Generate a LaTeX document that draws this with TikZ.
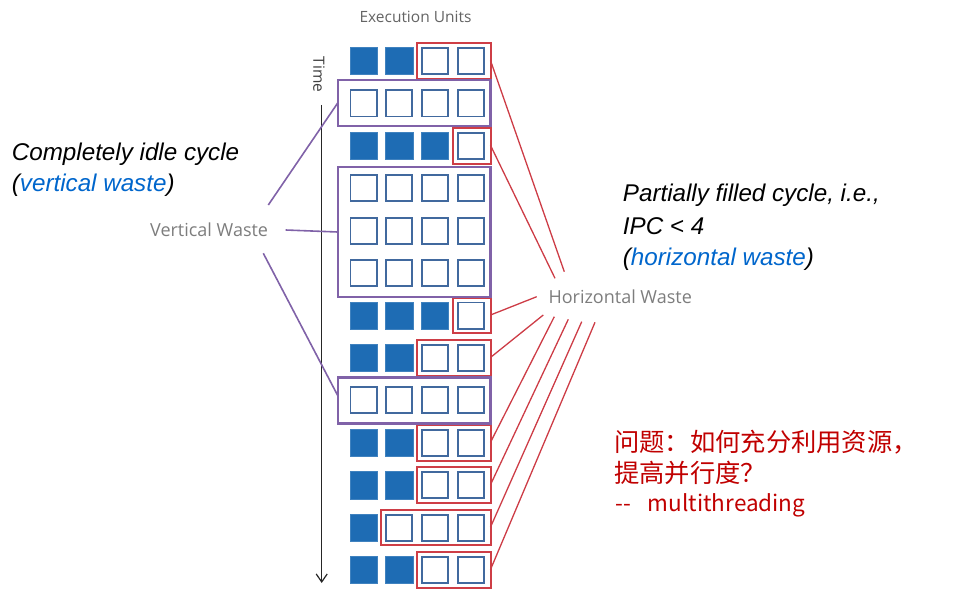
\documentclass[tikz,border=0pt]{standalone}
\usepackage{fontspec}
\setmainfont{Liberation Sans}
\newfontfamily\graysf{Open Sans}
\newfontfamily\cjk{Noto Sans CJK SC}
\usetikzlibrary{arrows.meta}
\definecolor{sqblue}{RGB}{30,108,180}
\definecolor{sqline}{RGB}{65,105,158}
\definecolor{boxred}{RGB}{206,62,70}
\definecolor{linered}{RGB}{205,60,70}
\definecolor{boxpurple}{RGB}{128,98,168}
\definecolor{tblue}{RGB}{0,102,204}
\definecolor{cnred}{RGB}{192,0,0}
\definecolor{labgray}{RGB}{125,125,125}
\tikzset{
  fullsq/.style={fill=sqblue, draw=sqblue!85!white, line width=0.6pt, minimum size=27.4pt, inner sep=0pt, outer sep=0pt},
  emptysq/.style={fill=white, draw=sqline, line width=1.9pt, minimum size=26.1pt, inner sep=0pt, outer sep=0pt},
  redbox/.style={draw=boxred, line width=2pt, inner sep=0pt, outer sep=0pt},
  purpbox/.style={draw=boxpurple, line width=2.1pt, inner sep=0pt, outer sep=0pt, minimum width=152.8pt},
  redline/.style={draw=linered, line width=1.3pt},
  purpline/.style={draw=boxpurple, line width=1.6pt},
  bigit/.style={font=\fontsize{24.2}{28}\selectfont\itshape, inner sep=0pt, anchor=base west},
  graylab/.style={font=\graysf\fontsize{18}{22}\selectfont, text=labgray, inner sep=0pt, anchor=base west},
  smallgray/.style={font=\graysf\fontsize{15.5}{18}\selectfont, text=labgray!80!black, inner sep=0pt},
  cntext/.style={font=\cjk\fontsize{25.3}{30}\selectfont, text=cnred, inner sep=0pt, anchor=base west},
}
\begin{document}
\begin{tikzpicture}[x=1pt, y=-1pt]
\useasboundingbox (0,0) rectangle (961,599);
% titles
\node[smallgray, anchor=base west] (eu) at (359.3,22.7) {Execution Units};
\node[smallgray, rotate=-90, text=black!75] (time) at (319,74.5) {Time};
% time arrow
\coordinate (tTop) at (321.7,105);
\coordinate (tBot) at (321.7,583);
\draw[line width=1.2pt, draw=black!85, -{Straight Barb[length=8pt,width=11pt]}] (tTop) -- (tBot);
% squares
\foreach \r/\f in {1/2,2/0,3/3,4/0,5/0,6/0,7/3,8/2,9/0,10/2,11/2,12/1,13/2}{
  \pgfmathsetmacro\yy{61+42.42*(\r-1)}
  \foreach \c in {1,...,4}{
    \pgfmathsetmacro\xx{363.5+35.75*(\c-1)}
    \ifnum\c>\f
      \node[emptysq] (s\r-\c) at (\xx,\yy) {};
    \else
      \node[fullsq] (s\r-\c) at (\xx,\yy) {};
    \fi
  }
}
% red boxes
\foreach \r/\f in {1/2,3/3,7/3,8/2,10/2,11/2,12/1,13/2}{
  \pgfmathsetmacro\yy{61+42.42*(\r-1)}
  \pgfmathsetmacro\xl{363.5+35.75*\f-18}
  \pgfmathsetmacro\ww{490.5-\xl}
  \pgfmathsetmacro\xc{(490.5+\xl)/2}
  \node[redbox, minimum width=\ww pt, minimum height=35.5pt] (red\r) at (\xc,\yy) {};
}
% purple boxes
\node[purpbox, minimum height=46pt] (p2) at (414.1,103) {};
\node[purpbox, minimum height=129.4pt] (p46) at (414.1,232) {};
\node[purpbox, minimum height=46pt] (p9) at (414.1,400.5) {};
% labels
\node[graylab] (vw) at (150,236.7) {Vertical Waste};
\node[graylab] (hw) at (548.3,303.3) {Horizontal Waste};
% purple connectors
\coordinate (vA) at (268.3,205);
\coordinate (vB) at (285.7,230);
\coordinate (vC) at (263.3,253.3);
\draw[purpline] (vA) -- (p2.west);
\draw[purpline] (vB) -- (p46.west);
\draw[purpline] (vC) -- ([yshift=5pt]p9.west);
% red connectors
\coordinate (h1) at (564.3,271.7);
\coordinate (h3) at (555,278.3);
\coordinate (h7) at (536.7,296.7);
\coordinate (h8) at (543.3,315);
\coordinate (h10) at (554.3,316.7);
\coordinate (h11) at (568.3,319.3);
\coordinate (h12) at (581.7,321.7);
\coordinate (h13) at (595,322.3);
\foreach \r in {1,3,7,8,10,11,12,13}{
  \draw[redline] (h\r) -- ([yshift=0.5pt]red\r.east);
}
% left text
\node[bigit] (idle1) at (11.7,160.7) {Completely idle cycle};
\node[bigit] (idle2) at (11.7,191.7) {(\textcolor{tblue}{vertical waste})};
% right text
\node[bigit] (part1) at (622.7,201.7) {Partially filled cycle, i.e.,};
\node[bigit] (part2) at (622.7,234.3) {IPC < 4};
\node[bigit] (part3) at (622.7,265) {(\textcolor{tblue}{horizontal waste})};
% chinese text
\node[cntext] (cn1) at (614,451.5) {问题：如何充分利用资源，};
\node[cntext] (cn2) at (614,482.5) {提高并行度？};
\node[cntext, font=\cjk\fontsize{22.5}{27}\selectfont] (cn3) at (615,511.7) {-{}-\hspace{17pt}multithreading};
\end{tikzpicture}
\end{document}
